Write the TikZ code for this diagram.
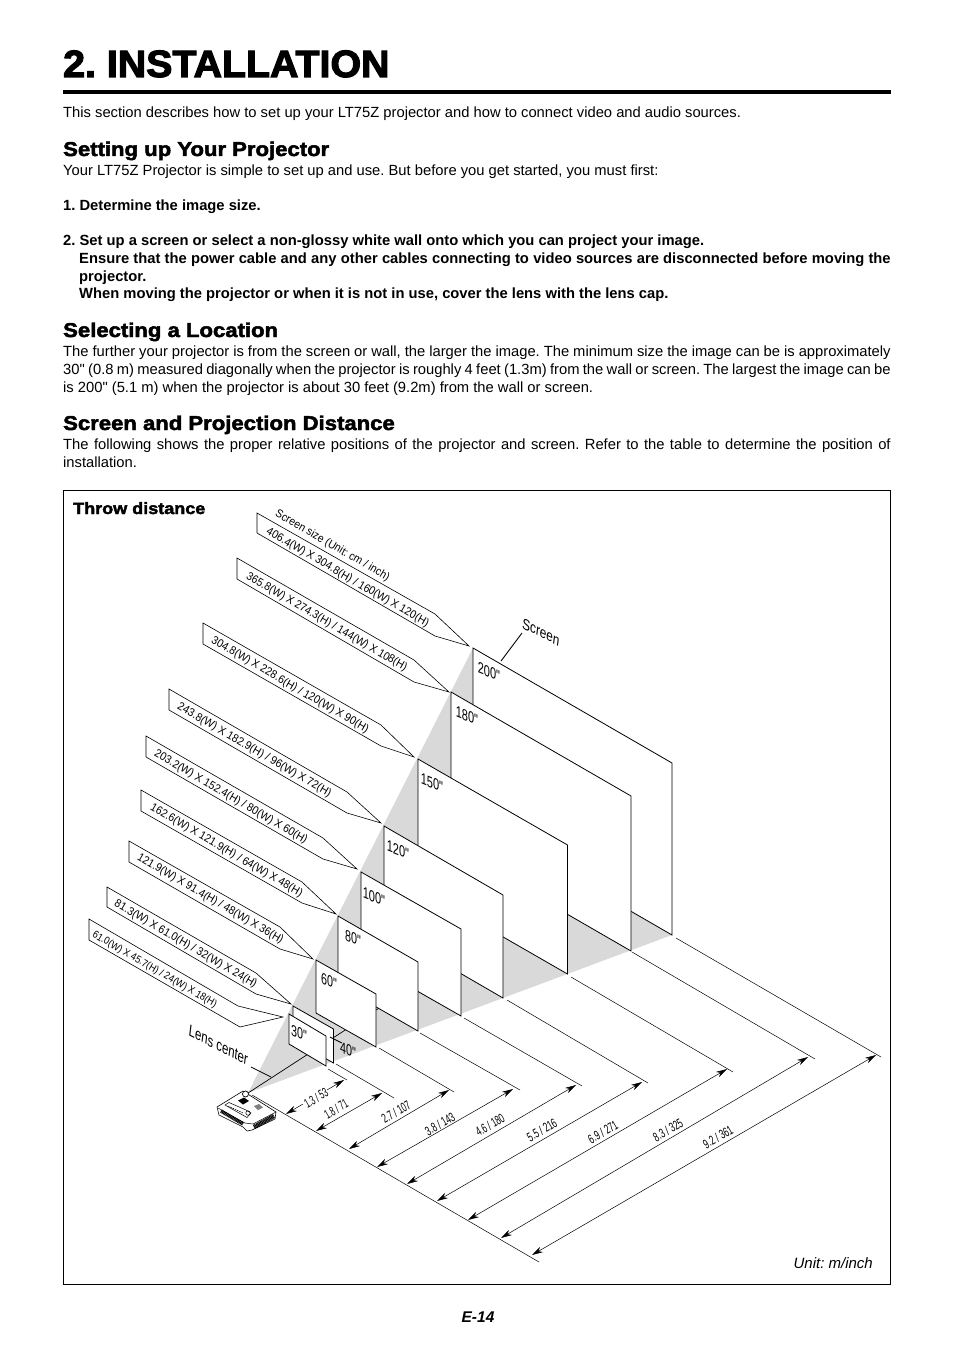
\documentclass[tikz,border=0pt]{standalone}
\usepackage{fontspec}
\usepackage{graphicx}
\usetikzlibrary{arrows.meta}
\setmainfont{Liberation Sans}
\newfontfamily\plainf{Liberation Sans}
\newfontfamily\titlef[BoldFeatures={FakeBold=3,FakeStretch=1.035}]{Liberation Sans}
\newfontfamily\headf[BoldFeatures={FakeBold=2.4,FakeStretch=1.105}]{Liberation Sans}
\AtBeginDocument{\plainf\frenchspacing}
\definecolor{conegrey}{HTML}{D9D9D9}
\tikzset{
  txt/.style={anchor=base west,inner sep=0,font=\fontsize{14.75}{16}\selectfont},
  bodyb/.style={txt,font=\fontsize{14.75}{16}\selectfont\bfseries},
  head/.style={anchor=base west,inner sep=0,font=\fontsize{20}{22}\selectfont\headf\bfseries},
  screenbox/.style={draw=black,fill=white,line width=.8pt,line join=miter},
  calloutbox/.style={draw=black,line width=.6pt,line join=miter},
  longlbl/.style={anchor=west,inner sep=0,rotate=-30.2,font=\fontsize{10}{12}\selectfont},
  dimlbl/.style={inner sep=0,rotate=30,font=\fontsize{10}{12}\selectfont},
  dimline/.style={line width=.5pt},
  dimarrow/.style={line width=.5pt,{Stealth[length=11pt,width=6pt]}-{Stealth[length=11pt,width=6pt]}},
  oneway/.style={line width=.5pt,-{Stealth[length=11pt,width=6pt]}},
  extline/.style={line width=.5pt},
  sizelbl/.style={inner sep=0,transform shape,font=\fontsize{12}{14}\selectfont},
}
\newcommand{\screenat}[9]{% id, TLx,TLy, TRx,TRy, BRx,BRy, BLx,BLy
  \coordinate (#1tl) at (#2,#3);\coordinate (#1tr) at (#4,#5);
  \coordinate (#1br) at (#6,#7);\coordinate (#1bl) at (#8,#9);
  \draw[screenbox] (#1tl) -- (#1tr) -- (#1br) -- (#1bl) -- cycle;}
\newcommand{\dimpair}[5]{% id, left tip, right tip, ext start, ext end
  \coordinate (#1l) at (#2);\coordinate (#1r) at (#3);
  \coordinate (#1s) at (#4);\coordinate (#1e) at (#5);
  \draw[extline] (#1s) -- (#1e);
  \draw[dimarrow] (#1l) -- (#1r);}
\newcommand{\sizelabel}[5]{% id,x,y,width,text
  \begin{scope}[shift={(#2,#3)},cm={.927,-.375,0,1,(0,0)}]
    \node[sizelbl] (#1) at (0,0) {\resizebox{#4pt}{11pt}{#5}};
  \end{scope}}
\begin{document}
\begin{tikzpicture}[x=1pt,y=-1pt]
\useasboundingbox (0,0) rectangle (954,1348);
% page text
\node[anchor=base west,inner sep=0,font=\fontsize{38}{40}\selectfont\titlef\bfseries] (title) at (63,77) {2. INSTALLATION};
\fill (63,90) rectangle (890.5,94);
\node[txt] (t1) at (63,118) {This section describes how to set up your LT75Z projector and how to connect video and audio sources.};
\node[head] (h1) at (63,156) {Setting up Your Projector};
\node[txt] (t2) at (63,176) {Your LT75Z Projector is simple to set up and use. But before you get started, you must first:};
\node[bodyb] (t3) at (63,211) {1. Determine the image size.};
\node[bodyb] (t4) at (63,246) {2. Set up a screen or select a non-glossy white wall onto which you can project your image.};
\node[bodyb] (t5) at (79,263) {\makebox[811.5pt][s]{Ensure that the power cable and any other cables connecting to video sources are disconnected before moving the}};
\node[bodyb] (t6) at (79,281) {projector.};
\node[bodyb] (t7) at (79,298) {When moving the projector or when it is not in use, cover the lens with the lens cap.};
\node[head] (h2) at (63,337) {Selecting a Location};
\node[txt] (t8) at (63,356) {\makebox[827.5pt][s]{The further your projector is from the screen or wall, the larger the image. The minimum size the image can be is approximately}};
\node[txt] (t9) at (63,374) {\makebox[827.5pt][s]{30" (0.8 m) measured diagonally when the projector is roughly 4 feet (1.3m) from the wall or screen. The largest the image can be}};
\node[txt] (t10) at (63,392) {is 200" (5.1 m) when the projector is about 30 feet (9.2m) from the wall or screen.};
\node[head] (h3) at (63,430) {Screen and Projection Distance};
\node[txt] (t11) at (63,449) {\makebox[827.5pt][s]{The following shows the proper relative positions of the projector and screen. Refer to the table to determine the position of}};
\node[txt] (t12) at (63,467) {installation.};
% frame
\draw[line width=.9pt] (63.5,490.5) rectangle (890.5,1284.5);
\node[anchor=base west,inner sep=0,font=\fontsize{16.3}{18}\selectfont\headf\bfseries] (throw) at (73,514) {Throw distance};
\node[anchor=base east,inner sep=0,font=\fontsize{15}{16}\selectfont\itshape] (unit) at (873,1268) {Unit: m/inch};
\node[anchor=base,inner sep=0,font=\fontsize{15.5}{16}\selectfont\bfseries\itshape] (page) at (478,1322) {E-14};
% cone and axis
\coordinate (apex) at (248,1093);
\fill[conegrey] (apex) -- (473,648) -- (672,763) -- (672,935) -- cycle;
\coordinate (axisend) at (660,826);
\draw[line width=.7pt] (apex) -- (axisend);
% screens back to front
\screenat{s200}{473}{648}{672}{763}{672}{935}{473}{820}
\screenat{s180}{451}{692}{631}{796}{631}{951}{451}{847}
\screenat{s150}{418}{759}{567.5}{845}{567.5}{974}{418}{888}
\screenat{s120}{384}{826}{503}{895}{503}{998}{384}{929}
\screenat{s100}{361}{872}{461}{929}{461}{1016}{361}{959}
\screenat{s80}{338}{916}{418}{962}{418}{1031}{338}{985}
\screenat{s60}{316}{960}{376}{994}{376}{1047}{316}{1013}
\screenat{s40}{293}{1006}{333.5}{1029}{333.5}{1063}{293}{1040}
\screenat{s30}{289}{1014}{326}{1036}{326}{1066}{289}{1044}
% size labels
\sizelabel{n200}{489}{672}{24}{200"}
\sizelabel{n180}{467}{716}{24}{180"}
\sizelabel{n150}{432}{783}{24}{150"}
\sizelabel{n120}{398}{850}{24}{120"}
\sizelabel{n100}{374}{897}{24}{100"}
\sizelabel{n80}{353}{938}{17}{80"}
\sizelabel{n60}{329}{981}{17}{60"}
\sizelabel{n40}{348}{1050}{17}{40"}
\sizelabel{n30}{299}{1033}{17}{30"}
\coordinate (lead40a) at (330,1037);\coordinate (lead40b) at (342,1043);
\draw[line width=.9pt] (lead40a) -- (lead40b);
% callouts
\draw[calloutbox] (257,513) -- (435,614) -- (469,646) -- (435,636) -- (257,533) -- cycle;
\draw[calloutbox] (237,558) -- (414,660) -- (449,692) -- (414,682) -- (237,579) -- cycle;
\draw[calloutbox] (203,623) -- (381,725) -- (414,757) -- (381,746) -- (203,644) -- cycle;
\draw[calloutbox] (169,689) -- (347,792) -- (381,823) -- (347,813) -- (169,710) -- cycle;
\draw[calloutbox] (146,736) -- (323,838) -- (357,869) -- (323,859) -- (146,757) -- cycle;
\draw[calloutbox] (141,790) -- (302,882) -- (336,914) -- (302,903) -- (141,811) -- cycle;
\draw[calloutbox] (129,841) -- (280,927) -- (313,959) -- (280,949) -- (129,862) -- cycle;
\draw[calloutbox] (107,887) -- (256,973) -- (291,1004) -- (256,994) -- (107,907) -- cycle;
\draw[calloutbox] (89,919) -- (238,1006) -- (283,1017) -- (240,1027) -- (89,940) -- cycle;
\node[longlbl] (hdr) at (276,513) {\resizebox{130pt}{8.3pt}{Screen size (Unit: cm / inch)}};
\node[longlbl] (l200) at (267,531) {\resizebox{186pt}{8.3pt}{406.4(W) X 304.8(H) / 160(W) X 120(H)}};
\node[longlbl] (l180) at (247,576) {\resizebox{184pt}{8.3pt}{365.8(W) X 274.3(H) / 144(W) X 108(H)}};
\node[longlbl] (l150) at (212,640) {\resizebox{180pt}{8.3pt}{304.8(W) X 228.6(H) / 120(W) X 90(H)}};
\node[longlbl] (l120) at (178,706) {\resizebox{176pt}{8.3pt}{243.8(W) X 182.9(H) / 96(W) X 72(H)}};
\node[longlbl] (l100) at (155,753) {\resizebox{175pt}{8.3pt}{203.2(W) X 152.4(H) / 80(W) X 60(H)}};
\node[longlbl] (l80) at (151,807) {\resizebox{174pt}{8.3pt}{162.6(W) X 121.9(H) / 64(W) X 48(H)}};
\node[longlbl] (l60) at (138,857) {\resizebox{167pt}{8.3pt}{121.9(W) X 91.4(H) / 48(W) X 36(H)}};
\node[longlbl] (l40) at (115,903) {\resizebox{163pt}{8.3pt}{81.3(W) X 61.0(H) / 32(W) X 24(H)}};
\node[longlbl] (l30) at (93,934) {\resizebox{142pt}{7.6pt}{61.0(W) X 45.7(H) / 24(W) X 18(H)}};
% screen / lens leaders
\begin{scope}[shift={(541,632)},cm={.899,-.438,.12,1,(0,0)}]
\node[sizelbl] (scrlbl) at (0,0) {\resizebox{41pt}{10.5pt}{Screen}};
\end{scope}
\coordinate (scra) at (522,633);\coordinate (scrb) at (501,661);
\draw[line width=.9pt] (scra) -- (scrb);
\begin{scope}[shift={(218.5,1045)},cm={.891,-.454,.12,1,(0,0)}]
\node[sizelbl] (lenslbl) at (0,0) {\resizebox{66pt}{11pt}{Lens center}};
\end{scope}
\coordinate (lensa) at (251,1067);\coordinate (lensb) at (271,1077);
\draw[line width=.7pt] (lensa) -- (lensb);
% dimensions
\coordinate (basea) at (252,1095);\coordinate (baseb) at (539,1262);
\draw[extline] (basea) -- (baseb);
\coordinate (d1l) at (286,1114);\coordinate (d1la) at (303,1104);
\coordinate (d1ra) at (327,1090);\coordinate (d1r) at (344,1080);
\coordinate (d1s) at (328,1069);\coordinate (d1e) at (347,1080);
\draw[extline] (d1s) -- (d1e);
\draw[oneway] (d1la) -- (d1l);
\draw[oneway] (d1ra) -- (d1r);
\dimpair{d2}{316,1131}{382,1093}{336,1064}{394,1098}
\dimpair{d3}{349,1149}{449,1090}{379,1048}{454,1092}
\dimpair{d4}{377,1167}{513,1089}{420,1033}{520,1090}
\dimpair{d5}{407,1184}{576,1085}{464,1018}{582,1086}
\dimpair{d6}{437,1201}{642,1082}{507,1000}{648,1083}
\dimpair{d7}{468,1220}{727,1069}{571,977}{733,1072}
\dimpair{d8}{501,1238}{808,1057}{632,952}{815,1059}
\dimpair{d9}{532,1255}{876,1055}{676,938}{881,1057}
\node[dimlbl] (v1) at (316,1098) {\resizebox{25pt}{9.5pt}{1.3 / 53}};
\node[dimlbl] (v2) at (336,1109) {\resizebox{25pt}{9.5pt}{1.8 / 71}};
\node[dimlbl] (v3) at (396,1112) {\resizebox{31pt}{9.5pt}{2.7 / 107}};
\node[dimlbl] (v4) at (440,1124) {\resizebox{32pt}{9.5pt}{3.8 / 143}};
\node[dimlbl] (v5) at (490,1125) {\resizebox{31pt}{9.5pt}{4.6 / 180}};
\node[dimlbl] (v6) at (542,1130) {\resizebox{32pt}{9.5pt}{5.5 / 216}};
\node[dimlbl] (v7) at (603,1132) {\resizebox{32pt}{9.5pt}{6.9 / 271}};
\node[dimlbl] (v8) at (668,1130) {\resizebox{32pt}{9.5pt}{8.3 / 325}};
\node[dimlbl] (v9) at (718,1137) {\resizebox{32pt}{9.5pt}{9.2 / 361}};
% projector
\draw[fill=white,line width=.6pt,line join=round] (217,1107) -- (243,1091) -- (276,1112) -- (275,1119) -- (252,1130) -- (247,1131) -- (243,1127) -- (219,1115) -- cycle;
\draw[line width=.5pt] (218,1108) -- (245,1123) -- (253,1124) -- (276,1112);
\draw[line width=3.5pt,dash pattern=on 1pt off .5pt] (221,1111) -- (243,1124);
\draw[line width=4.5pt,dash pattern=on 1pt off .5pt] (254,1127) -- (274,1116);
\draw[line width=.5pt,fill=white] (225,1105) -- (229,1102.5) -- (246,1110) -- (251,1113) -- (247,1117.5) -- cycle;
\draw[line width=.6pt,dash pattern=on 1.5pt off 1pt] (228,1106) -- (243,1113);
\draw[line width=.5pt] (248,1113) circle (2.2);
\fill (238,1100.5) -- (244,1097.5) -- (249,1101) -- (243,1104.5) -- cycle;
\draw[line width=.7pt,fill=white] (245.5,1094) circle (3);
\fill[black!50] (254,1106) -- (259,1104) -- (263,1107.5) -- (258,1110) -- cycle;
\end{tikzpicture}
\end{document}
